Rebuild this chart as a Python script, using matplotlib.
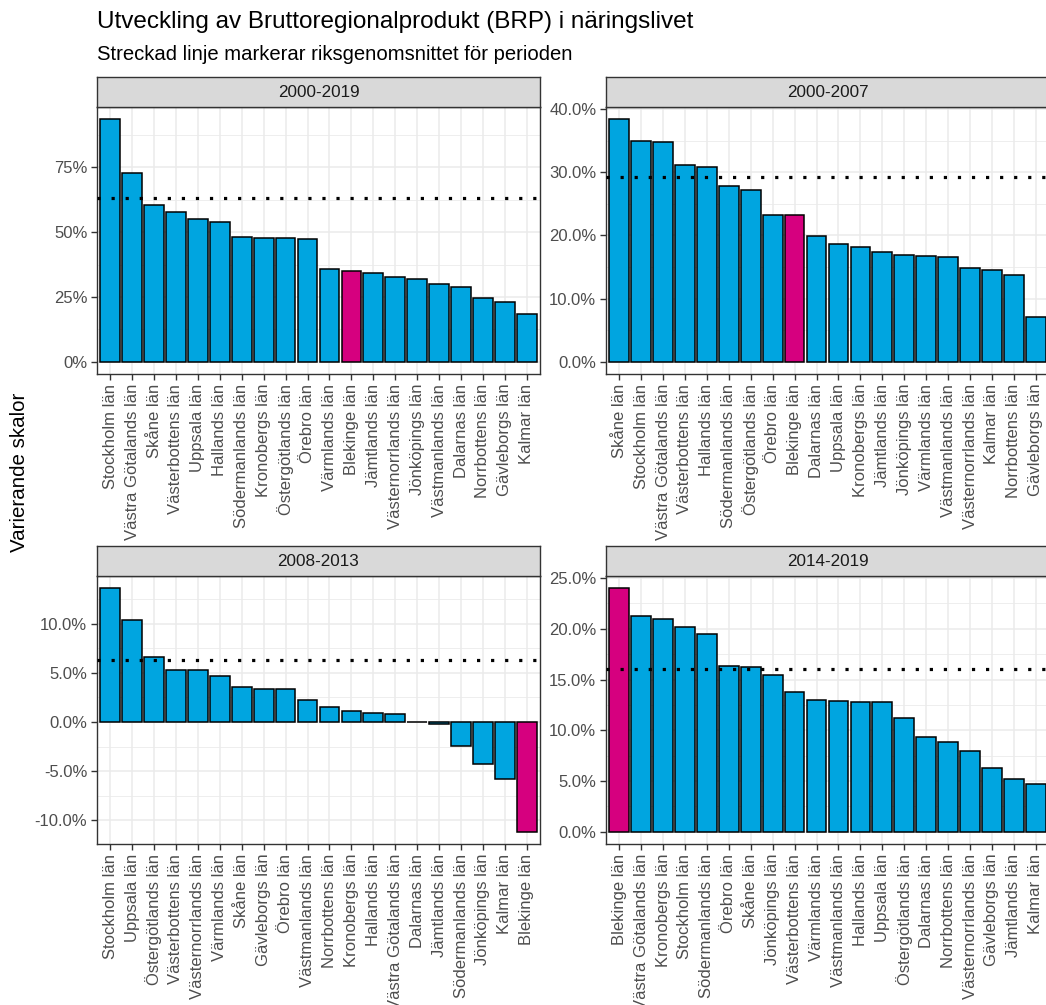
import matplotlib
matplotlib.use("Agg")
import matplotlib.pyplot as plt
from matplotlib.ticker import MultipleLocator, FuncFormatter

plt.rcParams['font.family'] = ['Liberation Sans', 'DejaVu Sans']

# --- data -------------------------------------------------------------
periods = ["2000-2019", "2000-2007", "2008-2013", "2014-2019"]

lan_2000_2019 = ["Stockholm", "Västra Götalands", "Skåne", "Västerbottens", "Uppsala",
                 "Hallands", "Södermanlands", "Kronobergs", "Östergötlands", "Örebro",
                 "Värmlands", "Blekinge", "Jämtlands", "Västernorrlands", "Jönköpings",
                 "Västmanlands", "Dalarnas", "Norrbottens", "Gävleborgs", "Kalmar"]
brp_2000_2019 = [93.5, 72.8, 60.6, 57.9, 55.2, 54.0, 48.2, 47.9, 47.9, 47.3,
                 35.6, 34.9, 34.2, 32.7, 32.1, 29.9, 29.0, 24.7, 22.9, 18.4]

lan_2000_2007 = ["Skåne", "Stockholm", "Västra Götalands", "Västerbottens", "Hallands",
                 "Södermanlands", "Östergötlands", "Örebro", "Blekinge", "Dalarnas",
                 "Uppsala", "Kronobergs", "Jämtlands", "Jönköpings", "Värmlands",
                 "Västmanlands", "Västernorrlands", "Kalmar", "Norrbottens", "Gävleborgs"]
brp_2000_2007 = [38.4, 35.0, 34.8, 31.2, 30.9, 27.8, 27.2, 23.3, 23.2, 19.9,
                 18.6, 18.1, 17.4, 16.9, 16.7, 16.6, 14.8, 14.6, 13.8, 7.1]

lan_2008_2013 = ["Stockholm", "Uppsala", "Östergötlands", "Västerbottens", "Västernorrlands",
                 "Värmlands", "Skåne", "Gävleborgs", "Örebro", "Västmanlands",
                 "Norrbottens", "Kronobergs", "Hallands", "Västra Götalands", "Dalarnas",
                 "Jämtlands", "Södermanlands", "Jönköpings", "Kalmar", "Blekinge"]
brp_2008_2013 = [13.6, 10.4, 6.6, 5.3, 5.25, 4.7, 3.6, 3.4, 3.4, 2.2,
                 1.5, 1.1, 0.9, 0.85, 0.05, -0.15, -2.4, -4.3, -5.8, -11.15]

lan_2014_2019 = ["Blekinge", "Västra Götalands", "Kronobergs", "Stockholm", "Södermanlands",
                 "Örebro", "Skåne", "Jönköpings", "Västerbottens", "Värmlands",
                 "Västmanlands", "Hallands", "Uppsala", "Östergötlands", "Dalarnas",
                 "Norrbottens", "Västernorrlands", "Gävleborgs", "Jämtlands", "Kalmar"]
brp_2014_2019 = [24.0, 21.25, 21.0, 20.2, 19.45, 16.35, 16.2, 15.4, 13.75, 13.0,
                 12.85, 12.8, 12.75, 11.25, 9.35, 8.8, 7.95, 6.3, 5.2, 4.7]

riks_snitt = [63.0, 29.2, 6.3, 16.05]
y_major = [25, 10, 5, 5]
decimals = [0, 1, 1, 1]
highlight = "Blekinge"

# --- layout -----------------------------------------------------------
W, H = 1046, 1005
fig = plt.figure(figsize=(W / 100, H / 100), dpi=100)

def rect(l, t, r, b):
    return [l / W, 1 - b / H, (r - l) / W, (b - t) / H]

panels = [(97, 107, 540, 374), (606, 107, 1049, 374),
          (97, 576, 540, 844), (606, 576, 1049, 844)]
strip_h = 30

data = [(lan_2000_2019, brp_2000_2019), (lan_2000_2007, brp_2000_2007),
        (lan_2008_2013, brp_2008_2013), (lan_2014_2019, brp_2014_2019)]

blue = "#00A5E0"
pink = "#D6007F"
grid_c = "#EBEBEB"
frame_c = "#333333"

for i, (lan, vals) in enumerate(data):
    l, t, r, b = panels[i]
    ax = fig.add_axes(rect(l, t, r, b))
    x = list(range(len(lan)))
    colors = [pink if n == highlight else blue for n in lan]
    ax.bar(x, vals, width=0.9, color=colors, edgecolor="black", linewidth=1.1, zorder=3)
    ax.axhline(riks_snitt[i], color="black", linewidth=2.3, linestyle=(0, (1, 3.4)),
               dash_capstyle="butt", zorder=4)

    lo, hi = min(0, min(vals)), max(0, max(vals))
    pad = 0.05 * (hi - lo)
    ax.set_ylim(lo - pad, hi + pad)
    ax.set_xlim(-0.6, len(lan) - 0.4)

    ax.yaxis.set_major_locator(MultipleLocator(y_major[i]))
    ax.yaxis.set_minor_locator(MultipleLocator(y_major[i] / 2))
    d = decimals[i]
    ax.yaxis.set_major_formatter(FuncFormatter(lambda v, p, d=d: f"{v:.{d}f}%"))
    ax.set_xticks(x)
    ax.set_xticklabels([n + " län" for n in lan], rotation=90, fontsize=12, color="#4D4D4D")
    ax.tick_params(axis="y", labelsize=12, labelcolor="#4D4D4D")
    ax.tick_params(which="major", length=4, width=1, color=frame_c, pad=3)
    ax.tick_params(which="minor", length=0)

    ax.grid(True, which="major", color=grid_c, linewidth=1.1, zorder=0)
    ax.grid(True, which="minor", axis="y", color=grid_c, linewidth=0.6, zorder=0)
    ax.set_axisbelow(True)
    for s in ax.spines.values():
        s.set_color(frame_c)
        s.set_linewidth(1.0)

    sax = fig.add_axes(rect(l, t - strip_h, r, t))
    sax.set_facecolor("#D9D9D9")
    sax.set_xticks([])
    sax.set_yticks([])
    for s in sax.spines.values():
        s.set_color(frame_c)
        s.set_linewidth(1.0)
    sax.text(0.5, 0.5, periods[i], ha="center", va="center", fontsize=12.3,
             color="#1A1A1A", transform=sax.transAxes)

fig.text(97 / W, 1 - 22 / H, "Utveckling av Bruttoregionalprodukt (BRP) i näringslivet",
         fontsize=17.5, ha="left", va="center", color="black")
fig.text(97 / W, 1 - 55 / H, "Streckad linje markerar riksgenomsnittet för perioden",
         fontsize=14.6, ha="left", va="center", color="black")
fig.text(20 / W, 1 - 472 / H, "Varierande skalor", rotation=90, fontsize=14.8,
         ha="center", va="center", color="black")

fig.savefig("out.png", dpi=100, facecolor="white")
